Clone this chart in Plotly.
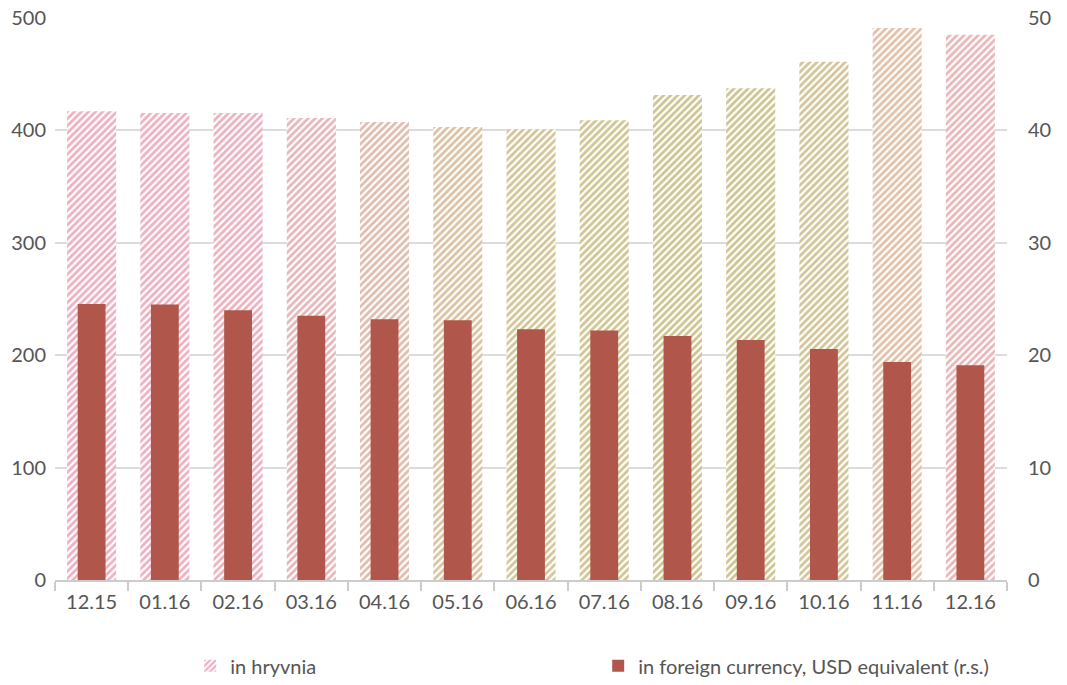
import plotly.graph_objects as go

categories = ["12.15", "01.16", "02.16", "03.16", "04.16", "05.16", "06.16",
              "07.16", "08.16", "09.16", "10.16", "11.16", "12.16"]
hryvnia = [417, 415.5, 415.5, 411, 407.5, 403, 401, 409, 431.5, 437.5, 461, 491, 485]
foreign_usd = [24.55, 24.5, 24.0, 23.5, 23.2, 23.1, 22.3, 22.2, 21.7, 21.35, 20.55, 19.4, 19.1]

hatch_colors = ["#dc6484", "#dc6484", "#d86684", "#cc7078", "#c07c60", "#b68848",
                "#aa8c34", "#a28c28", "#9e8a26", "#9e8a26", "#aa8a34", "#c68454", "#d27074"]
dark_red = "#b0564a"
font_fam = "Lato, 'Open Sans', sans-serif"
txt = "#555555"

fig = go.Figure()
fig.add_trace(go.Bar(
    x=categories, y=hryvnia, name="in hryvnia", width=0.67,
    marker=dict(color="white", line=dict(width=0),
                pattern=dict(shape="/", fgcolor=hatch_colors, bgcolor="white",
                             size=5, solidity=0.55, fillmode="overlay")),
    yaxis="y", legendrank=1,
))
fig.add_trace(go.Bar(
    x=categories, y=foreign_usd, name="in foreign currency, USD equivalent (r.s.)",
    width=0.38, marker=dict(color=dark_red, line=dict(width=0)),
    yaxis="y2", legendrank=2,
))

fig.update_layout(
    width=1067, height=685,
    margin=dict(l=55, r=60, t=18, b=105, autoexpand=False),
    paper_bgcolor="white", plot_bgcolor="white",
    barmode="overlay",
    font=dict(family=font_fam, size=20, color=txt),
    xaxis=dict(type="category", range=[-0.5, 12.5], tickson="boundaries",
               ticks="outside", ticklen=9, tickcolor="#cccccc", tickwidth=1.5,
               showline=True, linecolor="#cccccc", linewidth=1.5,
               ticklabelstandoff=3,
               showgrid=False, tickfont=dict(size=20, color=txt)),
    yaxis=dict(range=[0, 500], dtick=100, showgrid=True, gridcolor="#dcdcdc",
               gridwidth=1.5, zeroline=False, showline=False,
               ticks="", ticklabelstandoff=8, tickfont=dict(size=20, color=txt)),
    yaxis2=dict(range=[0, 50], dtick=10, overlaying="y", side="right",
                showgrid=False, zeroline=False, showline=False, ticks="",
                ticklabelstandoff=20, tickfont=dict(size=20, color=txt)),
    legend=dict(orientation="h", x=0.142, xanchor="left",
                yref="container", y=0.028, yanchor="middle",
                entrywidth=363, entrywidthmode="pixels", itemwidth=30,
                font=dict(size=20, color=txt), bgcolor="rgba(0,0,0,0)"),
    showlegend=True,
)

fig.write_html("out.html")
